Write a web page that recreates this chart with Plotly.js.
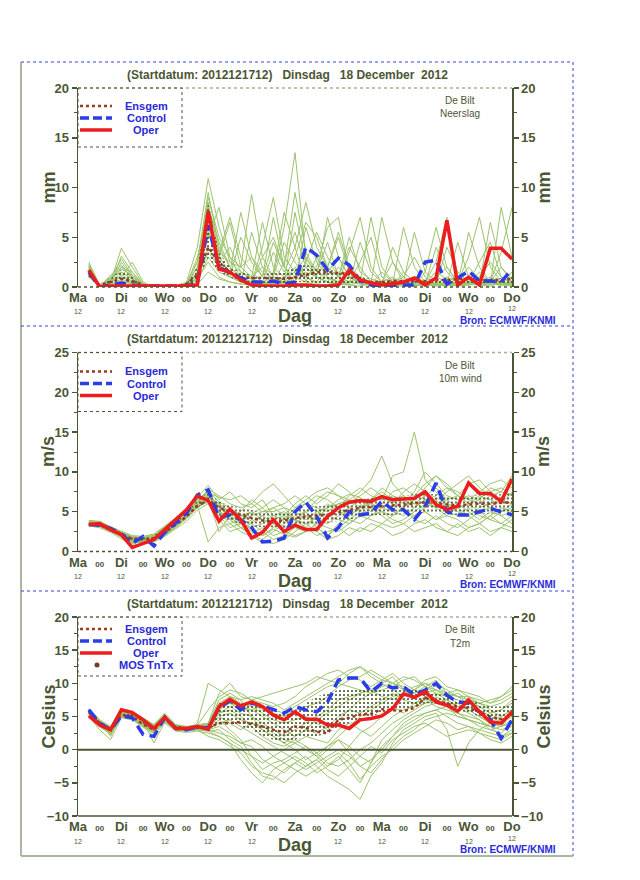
<!DOCTYPE html>
<html><head><meta charset="utf-8">
<script src="https://cdn.plot.ly/plotly-3.0.1.min.js"></script>
<style>html,body{margin:0;padding:0;background:#fff;} #chart{width:640px;height:880px;}</style>
</head><body><div id="chart"></div>
<script>
// ---------- time axis ----------
const hours = [6,12,18,24,30,36,42,48,54,60,66,72,78,84,90,96,102,108,114,120,126,132,138,144,150,156,162,168,174,180,186,192,198,204,210,216,222,228,234,240];
const tickHours = [0,12,24,36,48,60,72,84,96,108,120,132,144,156,168,180,192,204,216,228,240];
const tickNames = ['Ma','00','Di','00','Wo','00','Do','00','Vr','00','Za','00','Zo','00','Ma','00','Di','00','Wo','00','Do'];
const dayHours = [0,24,48,72,96,120,144,168,192,216,240];
const dayHourLabel = '12';

// ---------- Neerslag (mm) ----------
const precipOper = [1.7,0,0.1,0.1,0.1,0.1,0.1,0.1,0.1,0.1,0.2,7.6,1.8,1.5,0.7,0.2,0.1,0.1,0.1,0.2,0.2,0.1,0.1,0.2,1.7,0.7,0.4,0.2,0.3,0.5,0.9,0.2,0.9,6.7,0.2,1.0,0.2,3.9,3.9,2.8];
const precipCtrl = [1.5,0,0.2,0.4,0.2,0.1,0.1,0.1,0.1,0.1,0.4,6.2,2.0,1.4,0.9,0.5,0.5,0.6,0.3,0.5,4.0,3.2,1.7,2.9,2.2,0.6,0.2,0.1,0.1,0.2,0.2,2.5,2.7,0.3,0.9,1.6,0.6,0.6,0.5,1.8];
const precipMean = [1.2,0.2,0.5,0.8,0.6,0.2,0.1,0.1,0.1,0.3,1.2,4.0,2.5,1.5,1.0,0.9,0.9,0.9,0.8,1.0,1.2,1.5,1.5,1.4,1.3,0.7,0.5,0.5,0.6,0.6,0.6,0.6,0.7,0.7,0.8,0.8,0.7,0.7,0.7,0.8];
const precipQ25 = [1.3,0,0.3,0.7,0.4,0.1,0,0,0,0.1,0.6,3.0,1.5,1.0,0.5,0.3,0.2,0.3,0.4,0.5,0.5,0.4,0.4,0.4,0.3,0.2,0.2,0.2,0.2,0.2,0.2,0.2,0.2,0.2,0.2,0.2,0.2,0.2,0.2,0.2];
const precipQ75 = [1.9,0.1,0.8,1.8,1.0,0.2,0,0,0.1,0.3,2.0,8.5,3.5,2.0,1.5,1.2,1.2,1.5,1.5,2.0,2.2,2.0,1.8,1.5,1.2,1.0,0.8,0.6,0.6,0.7,0.8,0.7,0.8,0.8,0.8,0.9,0.8,0.8,0.9,1.0];
const precipM01 = [2.0,0.1,0.8,2.0,1.0,0.2,0,0,0.1,0.3,2.5,9.5,4.0,2.0,1.0,0.5,3.0,5.0,2.0,1.0,0.5,0.2,1.5,3.0,1.0,0.3,0.2,0.5,1.0,0.3,0.2,0.5,1.5,0.8,0.3,0.2,0.5,1.0,0.4,0.3];
const precipM02 = [1.5,0,0.5,3.9,2.0,0.3,0,0,0,0.1,1.5,7.0,3.0,6.5,2.0,9.3,3.0,1.0,0.5,2.0,1.0,0.3,0.2,1.0,4.0,2.0,0.5,0.2,0.1,0.3,1.0,0.5,0.2,0.1,0.3,0.8,0.2,0.1,0.5,1.0];
const precipM03 = [2.5,0.2,1.0,1.5,0.8,0.1,0,0,0,0.5,4.0,10.9,6.0,2.5,1.5,1.0,2.0,1.2,6.0,13.5,3.0,1.0,0.5,0.3,0.2,0.1,0.3,1.5,0.5,0.2,0.1,0.2,1.0,2.0,0.5,0.3,1.0,2.5,1.0,0.5];
const precipM04 = [1.2,0,0.3,3.1,1.5,0.2,0,0,0.1,0.2,0.8,5.5,2.0,1.0,5.0,2.5,1.0,7.0,2.0,0.5,2.5,5.5,3.0,1.0,0.5,0.3,0.2,0.1,0.5,1.0,3.0,1.0,0.3,0.2,0.1,0.3,1.5,0.5,0.2,0.1];
const precipM05 = [1.8,0.1,0.6,1.0,0.5,0.1,0,0,0,0.1,1.0,8.0,4.5,2.0,1.0,0.8,0.5,3.5,1.5,4.0,8.5,4.0,2.0,5.5,2.0,1.0,0.5,0.3,0.2,1.5,0.5,0.3,0.2,4.0,1.5,0.5,0.3,0.5,2.0,0.8];
const precipM06 = [1.0,0,0.4,2.5,1.0,0.2,0,0.1,0,0.3,2.0,6.5,3.5,7.0,3.0,1.5,0.5,0.3,2.5,5.5,2.0,1.0,7.0,3.0,1.0,0.5,0.3,0.2,0.5,0.3,0.2,1.5,6.0,2.0,0.5,0.3,0.2,0.5,0.3,0.2];
const precipM07 = [2.2,0.1,0.5,1.2,0.6,0.2,0,0,0,0.1,0.5,4.0,2.0,1.0,0.8,0.5,0.5,1.0,4.5,2.5,1.0,2.0,6.0,7.0,1.5,0.5,7.0,2.0,0.5,0.3,0.2,0.1,0.3,1.0,0.5,3.0,7.0,2.0,0.5,0.3];
const precipM08 = [1.6,0,0.2,0.8,0.4,0.1,0,0,0,0.2,1.5,9.0,5.0,3.0,2.0,1.0,6.5,2.0,1.0,0.5,6.0,2.5,1.0,0.5,3.5,7.0,2.0,0.5,0.3,0.2,0.5,0.3,0.2,0.1,0.5,2.0,0.8,0.5,3.5,8.0];
const precipM09 = [1.4,0,0.7,2.0,1.5,0.3,0.1,0,0,0.1,2.0,6.0,2.5,4.0,1.5,0.8,0.3,0.5,0.8,3.0,6.5,5.0,2.0,1.0,0.5,2.5,5.0,1.0,0.3,6.0,2.0,0.5,0.3,0.2,1.5,0.5,0.3,6.5,2.0,0.5];
const precipM10 = [2.0,0.1,0.3,0.5,0.3,0.1,0,0,0,0.1,0.5,3.0,1.5,1.0,0.5,0.3,0.2,0.5,1.0,1.5,3.0,1.5,4.5,1.0,5.0,1.5,0.8,0.5,0.3,0.2,1.0,0.5,2.5,7.0,1.0,0.5,0.3,0.2,0.5,1.5];
const precipM11 = [1.7,0,1.2,2.2,0.8,0.2,0,0,0,0.2,3.0,7.5,3.0,1.5,7.5,3.0,1.5,0.8,0.5,7.5,2.5,1.0,0.5,0.3,0.2,0.5,0.3,7.0,2.5,0.5,0.3,0.2,0.1,0.3,4.5,1.0,0.5,0.3,0.2,0.5];
const precipM12 = [1.3,0,0.4,1.5,0.8,0.1,0,0,0,0.1,0.8,2.5,1.0,0.5,0.3,5.5,2.0,0.5,0.3,1.0,1.5,1.0,0.5,2.0,1.0,0.5,0.3,0.2,0.8,0.5,5.5,1.5,0.5,0.3,0.2,0.5,2.5,4.5,1.0,0.3];
const precipM13 = [2.3,0,0.6,1.8,1.2,0.2,0,0,0,0.2,1.2,5.0,8.0,3.0,1.0,0.5,4.0,9.0,3.0,1.5,1.0,0.5,2.0,5.0,1.5,0.5,0.3,0.2,0.1,0.3,0.5,0.3,4.0,1.5,0.5,0.3,0.2,0.8,0.5,0.3];
const precipM14 = [1.9,0,0.5,1.0,2.5,0.5,0,0,0,0.1,1.0,3.5,2.0,1.5,1.0,0.5,0.3,1.5,7.5,4.0,0.5,3.0,1.0,0.5,0.3,4.5,1.5,0.5,2.5,1.0,0.5,0.3,0.2,0.5,0.3,0.8,1.0,0.3,8.0,3.0];
const precipM15 = [1.1,0,0.2,0.6,0.3,0.1,0,0,0,0.1,0.3,1.5,0.8,0.5,0.3,0.2,0.1,0.3,0.5,1.0,2.0,1.0,0.5,0.3,0.5,1.0,0.5,0.3,0.2,0.1,0.2,0.5,0.3,0.2,0.1,0.2,0.5,0.3,0.2,0.5];
const precipM16 = [2.1,0.1,0.9,2.8,1.2,0.2,0,0,0,0.4,2.5,8.5,3.5,2.5,2.0,3.0,1.0,4.5,2.0,9.5,3.5,1.5,0.8,0.5,1.0,0.5,0.2,0.3,4.0,1.5,0.5,0.3,1.0,0.5,0.3,5.5,2.0,0.5,0.3,0.2];

// ---------- 10m wind (m/s) ----------
const windOper = [3.4,3.5,2.75,2.1,0.5,1.0,1.5,2.75,4.0,5.25,7.0,6.4,3.8,5.3,4.0,1.7,2.4,4.0,2.5,3.3,2.75,2.75,4.4,5.5,6.2,6.4,6.3,6.9,6.5,6.6,6.7,7.5,5.9,5.25,5.7,8.6,7.3,7.3,6.3,9.1];
const windCtrl = [3.4,3.3,2.9,2.2,1.0,1.9,0.7,2.4,3.6,4.8,7.1,7.75,4.25,4.6,4.0,3.0,1.2,1.3,1.7,5.0,6.2,4.4,1.7,3.0,5.0,4.6,4.8,6.3,5.25,5.25,4.0,5.7,8.6,5.0,4.6,4.6,5.0,5.4,5.0,4.6];
const windMean = [3.4,3.3,2.8,2.2,1.6,1.5,1.7,2.4,3.4,4.4,5.7,6.5,5.5,5.0,4.6,4.2,3.9,3.8,3.9,4.2,4.4,4.5,4.6,4.9,5.2,5.5,5.6,5.7,5.8,5.9,6.0,6.2,6.1,5.9,5.8,5.9,6.0,6.0,6.1,6.2];
const windQ25 = [3.3,3.2,2.6,2.0,1.3,1.3,1.5,2.2,3.1,4.1,5.5,6.3,4.5,3.8,3.5,3.2,3.0,3.0,3.0,3.2,3.4,3.5,3.6,3.8,4.0,4.3,4.5,4.6,4.6,4.7,4.8,4.9,4.8,4.7,4.6,4.6,4.7,4.7,4.8,4.9];
const windQ75 = [3.6,3.5,2.9,2.4,1.8,1.8,2.0,2.9,3.9,4.9,6.4,7.4,6.3,5.8,5.5,5.2,5.0,5.0,5.0,5.2,5.5,5.7,5.8,6.0,6.3,6.5,6.7,6.8,6.9,7.0,7.2,7.3,7.2,7.0,6.9,7.0,7.1,7.1,7.2,7.3];
const windM01 = [3.6,3.5,3.0,2.4,1.8,1.7,1.9,2.8,3.8,4.8,6.3,7.0,6.0,5.0,4.5,4.8,5.5,6.5,5.5,4.0,3.5,4.2,5.5,6.5,7.2,6.8,5.5,6.0,7.5,8.0,7.0,8.5,9.5,8.0,7.0,6.5,7.5,8.5,9.0,8.0];
const windM02 = [3.3,3.2,2.6,1.8,1.0,1.2,1.5,2.2,3.3,4.5,6.0,7.5,4.0,2.5,3.0,2.0,1.5,2.5,3.5,4.5,5.0,3.0,2.0,3.5,4.5,5.5,6.0,5.0,4.5,5.5,6.5,5.0,4.0,4.5,5.5,4.5,3.5,4.5,5.5,5.0];
const windM03 = [3.9,3.8,3.1,2.5,2.0,1.9,2.2,3.2,4.2,5.3,6.8,8.3,6.5,7.5,6.0,5.5,6.5,4.5,4.0,5.5,6.5,7.5,8.0,7.0,6.5,7.5,9.0,12.0,8.5,7.0,6.0,7.0,6.5,7.5,8.5,9.5,8.0,7.0,7.5,9.5];
const windM04 = [3.4,3.3,2.8,2.0,1.3,1.3,1.4,2.0,3.0,4.2,5.8,1.2,3.0,3.5,4.0,3.5,2.5,1.5,2.0,3.0,2.5,3.5,4.5,4.0,3.5,4.5,5.5,4.5,3.5,4.0,5.0,6.0,5.5,4.5,4.0,3.0,3.5,4.5,3.5,3.0];
const windM05 = [3.5,3.4,2.7,2.2,1.6,1.4,1.8,2.6,3.6,4.6,6.2,7.8,7.0,6.0,5.5,6.0,7.5,8.5,7.0,5.5,6.0,5.0,4.5,5.5,7.0,8.0,7.0,6.5,9.5,10.0,15.0,9.0,7.5,6.0,5.5,6.0,6.5,5.5,5.0,6.0];
const windM06 = [3.2,3.0,2.4,1.6,0.8,1.0,1.2,1.9,2.8,3.8,5.2,6.0,5.0,3.5,2.5,1.8,1.2,1.0,1.5,2.5,3.5,2.5,1.5,2.0,3.0,2.5,3.5,3.0,2.0,2.5,3.5,4.0,3.0,2.5,2.0,3.0,3.5,2.5,3.0,4.0];
const windM07 = [3.7,3.6,3.0,2.3,1.5,1.6,2.0,3.0,4.0,5.0,6.5,7.2,5.5,4.5,5.0,6.5,5.5,4.0,4.5,6.0,7.0,6.0,7.0,8.5,7.5,6.0,5.0,6.5,7.0,6.0,7.5,10.0,8.5,7.0,6.5,7.0,6.5,8.0,7.5,7.0];
const windM08 = [3.4,3.2,2.7,2.1,1.4,1.5,1.6,2.4,3.4,4.4,5.6,6.8,5.8,4.2,3.5,3.0,3.5,4.5,5.0,4.0,3.0,4.5,6.0,5.0,4.0,5.0,6.5,7.5,6.5,5.0,4.5,5.5,6.5,5.0,4.5,5.5,4.5,4.0,5.0,5.5];
const windM09 = [3.6,3.4,2.9,2.3,1.7,1.6,2.0,2.9,3.9,4.9,6.5,7.6,6.2,5.5,4.5,3.8,4.5,5.5,6.0,7.0,6.0,5.5,5.0,6.0,6.5,5.5,6.5,8.0,7.0,6.5,5.5,6.5,7.0,8.0,7.5,6.5,6.0,7.0,6.5,6.0];
const windM10 = [3.3,3.1,2.5,1.9,1.2,1.1,1.3,2.1,3.1,4.1,5.5,6.4,4.5,3.0,3.5,2.5,2.0,2.8,2.2,1.8,2.5,3.5,3.0,2.5,3.5,4.5,4.0,3.5,4.5,5.5,4.0,3.5,4.5,3.5,3.0,4.0,5.0,4.0,3.5,4.5];
const windM11 = [3.8,3.7,3.1,2.4,1.9,1.8,2.1,3.1,4.1,5.1,6.6,7.4,6.8,6.5,7.0,6.0,5.0,5.5,4.5,4.0,5.0,6.5,7.5,7.0,6.0,7.0,8.0,7.0,6.0,7.5,8.5,7.5,6.0,6.5,7.0,8.5,9.0,7.5,8.0,7.0];
const windM12 = [3.5,3.3,2.8,2.2,1.5,1.5,1.7,2.5,3.5,4.5,6.0,6.9,5.2,4.0,4.5,5.0,4.0,3.5,3.0,3.5,4.5,4.0,3.5,4.5,5.5,5.0,4.5,5.5,5.0,4.5,5.5,6.5,5.5,6.0,5.0,4.5,5.5,6.0,4.5,5.0];
const windM13 = [3.4,3.3,2.6,2.0,1.1,1.3,1.5,2.3,3.2,4.3,5.9,6.6,2.5,4.5,3.0,2.2,3.0,2.0,2.5,4.0,3.0,2.0,2.5,3.0,2.0,3.0,2.5,3.5,3.0,3.5,2.5,3.0,3.5,2.5,3.5,2.5,3.0,2.0,3.0,2.5];
const windM14 = [3.6,3.5,2.9,2.3,1.6,1.7,1.9,2.7,3.7,4.7,6.1,7.1,5.5,5.0,4.0,4.5,5.0,5.0,5.5,5.0,4.0,5.0,5.5,6.0,5.5,6.5,6.0,5.5,6.5,7.0,6.0,7.0,8.0,6.5,5.5,6.0,7.0,6.5,6.0,7.5];
const windM15 = [3.5,3.4,2.8,2.1,1.4,1.4,1.6,2.4,3.4,4.4,5.8,6.7,6.0,4.8,3.5,2.8,2.0,3.0,4.0,5.0,6.0,7.0,6.5,5.5,4.5,5.5,6.5,7.0,6.0,5.5,6.5,8.0,9.5,8.5,7.0,6.0,5.0,5.5,6.5,6.0];
const windM16 = [3.3,3.2,2.6,1.9,1.2,1.2,1.4,2.2,3.2,4.2,5.6,6.2,5.0,4.0,3.0,3.5,4.5,3.5,2.5,2.0,2.5,3.0,2.0,3.0,4.0,3.5,4.5,5.0,4.0,3.5,4.5,5.0,4.0,5.0,6.0,5.0,4.0,5.0,4.5,3.5];

// ---------- T2m (Celsius) ----------
const tempOper = [5.1,3.7,3.0,6.0,5.6,4.5,3.2,4.9,3.2,3.2,3.5,3.1,6.5,7.6,6.6,7.2,6.5,5.2,4.5,5.7,4.6,4.6,3.7,3.7,3.2,4.5,4.7,5.1,6.2,8.4,7.9,8.7,7.2,6.7,5.8,7.5,5.7,4.2,4.0,5.7];
const tempCtrl = [6.0,4.0,3.0,5.1,4.8,2.3,2.0,4.9,3.2,3.0,3.4,3.3,6.3,7.4,6.0,7.0,6.6,6.0,5.5,6.5,6.0,5.7,7.2,10.5,10.8,10.8,8.7,10.0,9.3,9.5,8.2,9.0,10.0,8.2,7.2,7.0,5.7,4.5,1.7,4.5];
const tempMean = [5.7,4.0,3.0,5.2,5.0,3.8,3.0,4.6,3.4,3.2,3.3,3.3,4.0,4.0,4.2,3.9,3.5,3.0,2.6,3.5,3.3,2.7,2.5,4.5,4.8,5.3,5.4,6.1,6.0,5.8,6.3,7.8,7.4,7.0,6.5,6.3,5.7,5.0,4.6,5.3];
const tempQ25 = [5.4,3.7,2.7,5.2,4.8,3.8,2.9,4.5,3.1,3.0,3.1,3.0,4.0,4.0,3.5,3.0,2.0,1.5,1.0,1.5,2.0,2.0,2.5,3.5,4.0,4.5,5.0,5.5,6.0,6.0,6.5,7.0,7.0,6.5,6.0,5.5,5.0,4.5,4.5,5.0];
const tempQ75 = [6.0,4.3,3.3,5.9,5.4,4.4,3.5,5.1,3.6,3.4,3.6,3.7,7.0,7.5,6.5,6.8,6.5,6.0,5.5,6.0,7.0,8.0,8.5,9.0,9.0,9.0,9.0,9.0,9.0,9.0,9.0,9.0,8.5,8.0,7.5,7.5,7.0,6.5,6.5,7.0];
const tempM01 = [6.2,4.5,3.5,6.2,5.8,4.8,3.8,5.5,3.8,3.5,3.8,4.0,8.5,10.0,8.0,7.5,7.0,6.5,7.0,8.0,9.5,10.5,11.5,12.0,11.0,10.5,9.5,10.5,11.5,10.0,9.0,10.5,11.0,9.5,9.0,8.5,8.0,7.0,7.5,8.5];
const tempM02 = [5.5,3.5,2.5,5.5,5.0,4.0,3.0,4.5,3.0,3.0,3.2,3.0,4.5,3.0,1.5,-1.0,-3.0,-2.0,-1.5,-0.5,0.5,-1.0,-2.5,-1.5,0.5,2.5,3.5,5.0,6.5,5.5,7.0,7.5,6.5,6.0,5.5,5.0,4.5,3.0,2.5,4.0];
const tempM03 = [5.8,4.2,3.2,5.8,5.2,4.2,3.4,5.0,3.5,3.2,3.5,3.5,6.0,7.5,6.5,7.0,6.0,5.5,5.0,6.0,6.5,7.0,8.0,9.5,10.5,11.0,12.0,11.0,10.0,9.5,8.5,9.0,10.0,9.0,8.0,7.5,6.5,5.5,6.0,7.0];
const tempM04 = [5.0,3.0,1.5,4.8,4.5,3.5,2.5,4.0,2.8,2.6,2.8,2.5,2.0,1.0,-1.5,-3.5,-5.0,-3.0,-2.0,-1.0,-2.0,-3.5,-2.5,-1.0,-3.0,-5.0,-2.0,0.5,2.0,3.5,4.5,5.5,6.0,5.0,4.0,3.5,3.0,2.5,2.0,3.0];
const tempM05 = [6.0,4.0,3.0,6.0,5.5,4.5,3.5,5.2,3.6,3.4,3.6,3.8,7.0,8.0,7.0,6.5,5.5,4.5,4.0,4.5,5.0,4.0,3.0,4.5,6.0,7.5,8.5,9.5,10.0,9.0,8.0,8.5,9.0,8.0,7.0,7.5,7.0,6.0,5.0,6.0];
const tempM06 = [5.3,3.8,2.8,5.0,4.8,3.8,2.8,4.6,3.2,3.1,3.0,3.0,3.5,2.5,1.0,0.5,-1.5,-2.5,-3.5,-2.0,-1.0,-2.5,-4.0,-5.0,-6.0,-7.5,-4.0,-2.0,1.0,3.0,4.0,5.0,5.5,3.0,-2.5,1.0,3.0,4.0,4.5,5.0];
const tempM07 = [5.6,4.0,3.0,5.6,5.0,4.0,3.2,4.8,3.4,3.2,3.4,3.4,5.5,6.5,5.5,5.0,4.0,3.0,2.0,3.0,4.0,5.0,6.0,7.5,8.0,8.5,9.0,8.0,7.5,8.5,9.5,10.0,9.0,8.0,7.5,7.0,6.0,5.0,4.5,5.5];
const tempM08 = [6.0,4.3,2.0,5.2,5.0,4.2,1.0,4.2,3.0,2.8,4.0,10.0,9.0,8.0,7.5,5.0,3.0,2.0,1.0,0.0,-1.5,-0.5,0.5,2.0,3.5,5.0,6.0,7.0,8.0,8.5,9.0,8.0,7.0,6.5,7.0,6.0,5.0,4.0,3.5,4.5];
const tempM09 = [5.4,3.6,2.6,5.4,4.9,3.9,3.1,4.7,3.3,3.0,3.1,3.1,4.0,4.5,3.5,2.5,1.5,0.5,-0.5,-1.5,-2.5,-1.5,0.0,1.5,0.5,-1.0,-2.0,1.5,3.0,4.5,5.5,6.5,7.0,7.5,6.5,5.5,4.5,3.5,3.0,3.5];
const tempM10 = [5.9,4.1,3.1,5.9,5.3,4.3,3.3,4.9,3.5,3.3,3.5,3.6,6.5,7.0,6.0,6.0,5.0,4.0,3.0,2.0,3.0,4.5,5.5,6.5,7.5,8.5,9.0,10.0,11.0,9.0,8.5,9.5,10.5,8.5,8.0,7.0,6.5,5.5,6.0,7.5];
const tempM11 = [5.2,3.4,2.4,5.2,4.6,3.6,2.6,4.4,3.0,2.9,3.0,2.8,3.0,1.5,0.5,-2.0,-4.0,-4.5,-3.0,-2.0,-3.0,-2.0,-1.0,0.0,-1.0,-2.5,-3.5,-1.5,0.5,2.0,3.0,4.5,5.0,5.5,5.0,4.5,4.0,3.5,2.0,2.5];
const tempM12 = [5.7,3.9,2.9,5.7,5.1,4.1,3.3,4.8,3.4,3.2,3.4,3.4,6.0,7.0,6.5,6.0,6.5,6.0,5.5,6.5,7.5,8.5,9.5,10.0,9.5,9.0,8.5,9.0,9.5,10.5,11.0,9.5,8.5,8.0,8.5,7.5,7.0,6.5,7.0,8.0];
const tempM13 = [5.4,3.7,2.7,5.4,4.7,3.7,2.9,4.5,3.1,3.0,3.1,3.0,2.5,2.0,1.0,1.5,0.5,-1.0,-2.0,-3.0,-4.0,-3.0,-1.5,-0.5,-2.0,-4.5,-2.5,-1.0,0.0,1.5,2.5,3.5,4.5,4.0,3.0,3.5,2.5,1.5,1.0,2.0];
const tempM14 = [6.1,4.4,3.4,6.1,5.7,4.7,3.7,5.3,3.7,3.4,3.7,3.9,7.5,8.5,7.5,8.0,7.5,7.0,6.0,7.0,8.0,9.0,10.0,11.0,12.0,12.5,11.0,10.0,9.0,8.0,9.0,10.0,9.5,8.5,8.0,8.0,7.5,7.0,8.0,9.5];
const tempM15 = [5.5,3.8,2.8,5.3,4.9,3.9,3.0,4.6,3.3,3.1,3.3,3.2,5.0,4.0,3.0,4.0,3.5,2.5,1.5,1.0,2.0,1.5,1.0,3.0,4.0,3.0,2.0,3.5,5.0,6.0,6.5,7.0,8.0,7.0,6.0,6.5,5.5,4.5,5.0,6.0];
const tempM16 = [5.8,4.0,3.1,5.7,5.2,4.1,3.2,4.8,3.4,3.2,3.4,3.5,5.5,6.0,5.0,3.5,2.0,1.0,0.5,1.5,0.5,-0.5,-2.0,-2.5,-1.5,0.0,1.0,2.5,4.0,5.0,6.0,7.0,7.5,6.5,5.0,4.5,4.0,3.5,4.0,5.0];
const tempM17 = [5.6,3.9,2.2,5.0,4.6,3.4,2.2,4.3,3.0,2.8,3.0,2.0,1.5,0.5,-0.5,-2.5,-3.5,-4.0,-5.0,-3.5,-2.5,-1.5,-3.0,-4.0,-2.5,-1.0,0.5,-0.5,1.5,2.5,3.5,4.0,3.0,2.0,2.5,3.0,2.5,2.0,1.5,2.5];
const tempM18 = [6.1,4.2,3.3,5.9,5.5,4.4,3.6,5.1,3.6,3.4,3.7,6.0,8.0,9.0,8.5,7.5,8.0,8.5,9.0,9.5,10.0,11.0,10.5,10.0,11.5,12.5,11.5,10.5,10.0,11.0,10.5,9.5,9.0,8.5,9.0,8.0,7.0,7.5,8.0,9.0];
const tempM19 = [5.3,3.6,2.5,5.1,4.7,3.6,2.7,4.4,3.0,2.9,3.1,2.8,2.0,1.0,0.0,-1.0,-2.0,-1.0,0.0,1.0,0.0,-1.0,0.5,1.5,-0.5,-2.5,-1.5,0.0,2.0,4.0,5.0,5.5,6.0,6.5,5.5,4.5,3.5,3.0,3.5,4.0];
const tempM20 = [5.9,4.1,3.0,5.6,5.1,4.0,3.1,4.7,3.3,3.1,3.3,3.5,5.0,5.5,4.5,4.0,3.0,2.0,1.0,2.0,3.0,2.5,3.5,5.0,6.0,5.5,6.5,7.5,8.5,7.5,7.0,8.0,8.5,7.5,6.5,6.0,5.0,4.0,3.5,5.5];

const precipMembers = [precipM01,precipM02,precipM03,precipM04,precipM05,precipM06,precipM07,precipM08,precipM09,precipM10,precipM11,precipM12,precipM13,precipM14,precipM15,precipM16];
const windMembers = [windM01,windM02,windM03,windM04,windM05,windM06,windM07,windM08,windM09,windM10,windM11,windM12,windM13,windM14,windM15,windM16];
const tempMembers = [tempM01,tempM02,tempM03,tempM04,tempM05,tempM06,tempM07,tempM08,tempM09,tempM10,tempM11,tempM12,tempM13,tempM14,tempM15,tempM16,tempM17,tempM18,tempM19,tempM20];

// ---------- text ----------
const titleText = '(Startdatum: 2012121712)\u00a0\u00a0\u00a0Dinsdag\u00a0\u00a0\u00a018 December\u00a0\u00a02012';
const placeName = 'De Bilt';
const sourceText = 'Bron: ECMWF/KNMI';
const axisTitle = 'Dag';
const legendLabels = ['Ensgem','Control','Oper','MOS TnTx'];

// ---------- styling ----------
const FONT = '"Liberation Sans", Arial, Helvetica, sans-serif';
const DARK = '#4b5634';
const BLUET = '#2a2ad8';
const GREEN = '#9cc36c';
const RED = '#ee1d1d';
const CBLUE = '#2b3de8';
const MEANC = '#9a3a27';
const X = px => px / 640;
const Y = py => 1 - py / 880;

const panels = [
  {off: 0, range: [0, 20], unit: 'mm', varName: 'Neerslag', members: precipMembers, lo: precipQ25, hi: precipQ75, mean: precipMean, ctrl: precipCtrl, oper: precipOper, rows: [18, 30, 42], nameRows: [12, 25], zero: false},
  {off: 264.5, range: [0, 25], unit: 'm/s', varName: '10m wind', members: windMembers, lo: windQ25, hi: windQ75, mean: windMean, ctrl: windCtrl, oper: windOper, rows: [19, 31, 43], nameRows: [13, 26], zero: false},
  {off: 529, range: [-10, 20], unit: 'Celsius', varName: 'T2m', members: tempMembers, lo: tempQ25, hi: tempQ75, mean: tempMean, ctrl: tempCtrl, oper: tempOper, rows: [12, 24, 36, 48], nameRows: [12, 26], zero: true},
];

const data = [];
const layout = {
  width: 640, height: 880, margin: {l: 0, r: 0, t: 0, b: 0},
  paper_bgcolor: '#fff', plot_bgcolor: '#fff', showlegend: false,
  font: {family: FONT, color: DARK},
  annotations: [], shapes: []
};

const tickText = tickNames.map(n => n === '00' ? '<span style="font-size:8px">00</span>' : n);
const smallFont = {family: FONT, size: 7, color: DARK};

function note(text, x, y, font, extra) {
  return Object.assign({text: text, xref: 'paper', yref: 'paper', x: x, y: y, showarrow: false,
    xanchor: 'center', yanchor: 'middle', font: font}, extra || {});
}

panels.forEach((p, i) => {
  const xa = i === 0 ? 'x' : 'x' + (i + 1);
  const ya = i === 0 ? 'y' : 'y' + (i + 1);
  const yr = 'y' + (i + 4);
  const top = 88 + p.off, bot = 287 + p.off;
  const dom = [Y(bot), Y(top)];

  p.members.forEach(m => data.push({x: hours, y: m, xaxis: xa, yaxis: ya, mode: 'lines', line: {color: GREEN, width: 1}, hoverinfo: 'skip'}));
  data.push({x: hours, y: p.hi, xaxis: xa, yaxis: ya, mode: 'lines', line: {width: 0, color: 'rgba(0,0,0,0)'}, hoverinfo: 'skip'});
  data.push({x: hours, y: p.lo, xaxis: xa, yaxis: ya, mode: 'lines', line: {width: 0, color: 'rgba(0,0,0,0)'}, fill: 'tonexty', fillcolor: 'rgba(0,0,0,0)',
    fillpattern: {shape: '.', fgcolor: '#3a461e', bgcolor: 'rgba(0,0,0,0)', size: 4, solidity: 0.2}, hoverinfo: 'skip'});
  data.push({x: hours, y: p.mean, xaxis: xa, yaxis: ya, mode: 'lines', line: {color: MEANC, width: 2.5, dash: 'dot'}, hoverinfo: 'skip'});
  data.push({x: hours, y: p.ctrl, xaxis: xa, yaxis: ya, mode: 'lines', line: {color: CBLUE, width: 3.5, dash: '11px,6px'}, hoverinfo: 'skip'});
  data.push({x: hours, y: p.oper, xaxis: xa, yaxis: ya, mode: 'lines', line: {color: RED, width: 3.5}, hoverinfo: 'skip'});
  data.push({x: [null], y: [null], xaxis: xa, yaxis: yr, mode: 'lines', hoverinfo: 'skip'});

  const xKey = i === 0 ? 'xaxis' : 'xaxis' + (i + 1);
  const yKey = i === 0 ? 'yaxis' : 'yaxis' + (i + 1);
  const yrKey = 'yaxis' + (i + 4);
  layout[xKey] = {domain: [X(78), X(512)], anchor: ya, range: [0, 240], fixedrange: true,
    tickvals: tickHours, ticktext: tickText, ticks: '', showgrid: false, zeroline: false, showline: false,
    tickfont: {family: FONT, size: 13, color: DARK, weight: 'bold'}, ticklabelstandoff: 1};
  const yCommon = {range: p.range, fixedrange: true, dtick: 5, tick0: 0, showgrid: false, zeroline: false,
    showline: true, linecolor: DARK, linewidth: 1.5, ticks: 'outside', ticklen: 5, tickwidth: 1.5, tickcolor: DARK,
    minor: {dtick: 2.5, ticks: 'outside', ticklen: 3, tickcolor: DARK, tickwidth: 1},
    tickfont: {family: FONT, size: 13, color: DARK, weight: 'bold'}};
  layout[yKey] = Object.assign({domain: dom, anchor: xa, side: 'left'}, yCommon);
  layout[yrKey] = Object.assign({overlaying: ya, anchor: xa, side: 'right'}, yCommon);

  const A = layout.annotations, S = layout.shapes;
  A.push(note(titleText, X(287), Y(75 + p.off), {family: FONT, size: 12, color: DARK, weight: 'bold'}));
  A.push(note(placeName, X(460), Y(top + p.nameRows[0]), {family: FONT, size: 10, color: DARK}));
  A.push(note(p.varName, X(460), Y(top + p.nameRows[1]), {family: FONT, size: 10, color: DARK}));
  const midY = Y((top + bot) / 2);
  A.push(note(p.unit, X(48), midY, {family: FONT, size: 18, color: DARK, weight: 'bold'}, {textangle: -90}));
  A.push(note(p.unit, X(543), midY, {family: FONT, size: 18, color: DARK, weight: 'bold'}, {textangle: -90}));
  A.push(note(axisTitle, X(295), Y(bot + 29), {family: FONT, size: 18, color: DARK, weight: 'bold'}));
  A.push(note(sourceText, X(508), Y(bot + 33), {family: FONT, size: 10, color: BLUET, weight: 'bold'}));
  // small "12" under each day label (the one under the axis title is hidden by it)
  dayHours.forEach(h => {
    if (h === 120) return;
    A.push({text: dayHourLabel, xref: xa, yref: 'paper', x: h, y: Y(bot + (h === 240 ? 22 : 25)), showarrow: false,
      xanchor: 'center', yanchor: 'middle', font: smallFont});
  });

  S.push({type: 'line', xref: 'paper', yref: 'paper', x0: X(78), x1: X(512), y0: Y(top), y1: Y(top), line: {color: '#a4b195', width: 1.5, dash: 'dot'}});
  S.push({type: 'line', xref: 'paper', yref: 'paper', x0: X(78), x1: X(512), y0: Y(bot), y1: Y(bot), line: {color: DARK, width: 1.5, dash: p.zero ? 'solid' : 'dot'}});
  if (p.zero) S.push({type: 'line', xref: xa, yref: ya, x0: 0, x1: 240, y0: 0, y1: 0, line: {color: DARK, width: 2}});

  S.push({type: 'rect', xref: 'paper', yref: 'paper', x0: X(78), x1: X(182), y0: Y(top), y1: Y(top + 59), line: {color: DARK, width: 1, dash: 'dot'}});
  const sampleStyles = [
    {color: MEANC, width: 2.5, dash: 'dot'},
    {color: CBLUE, width: 3.5, dash: '9px,4px'},
    {color: RED, width: 3.5}
  ];
  p.rows.forEach((row, r) => {
    const yy = Y(top + row);
    if (r < 3) {
      S.push({type: 'line', xref: 'paper', yref: 'paper', x0: X(80), x1: X(112), y0: yy, y1: yy, line: sampleStyles[r]});
    } else {
      S.push({type: 'circle', xref: 'paper', yref: 'paper', x0: X(94.5), x1: X(99.5), y0: yy - 2.5 / 880, y1: yy + 2.5 / 880, fillcolor: '#7a3a22', line: {width: 0}});
    }
    A.push(note(legendLabels[r], X(146), yy, {family: FONT, size: 11, color: BLUET, weight: 'bold'}));
  });
});

const S = layout.shapes;
S.push({type: 'line', xref: 'paper', yref: 'paper', x0: X(21), x1: X(21), y0: Y(62), y1: Y(856), line: {color: '#aab8a0', width: 2}});
S.push({type: 'line', xref: 'paper', yref: 'paper', x0: X(21), x1: X(573), y0: Y(62), y1: Y(62), line: {color: '#3340d8', width: 1, dash: 'dot'}});
S.push({type: 'line', xref: 'paper', yref: 'paper', x0: X(573), x1: X(573), y0: Y(62), y1: Y(856), line: {color: '#3340d8', width: 1, dash: 'dot'}});
S.push({type: 'line', xref: 'paper', yref: 'paper', x0: X(21), x1: X(573), y0: Y(856), y1: Y(856), line: {color: '#aab8a0', width: 2}});
S.push({type: 'line', xref: 'paper', yref: 'paper', x0: X(21), x1: X(573), y0: Y(326), y1: Y(326), line: {color: '#3340d8', width: 1, dash: 'dot'}});
S.push({type: 'line', xref: 'paper', yref: 'paper', x0: X(21), x1: X(573), y0: Y(591), y1: Y(591), line: {color: '#3340d8', width: 1, dash: 'dot'}});

Plotly.newPlot('chart', data, layout, {staticPlot: true, displayModeBar: false});
</script>
</body></html>
